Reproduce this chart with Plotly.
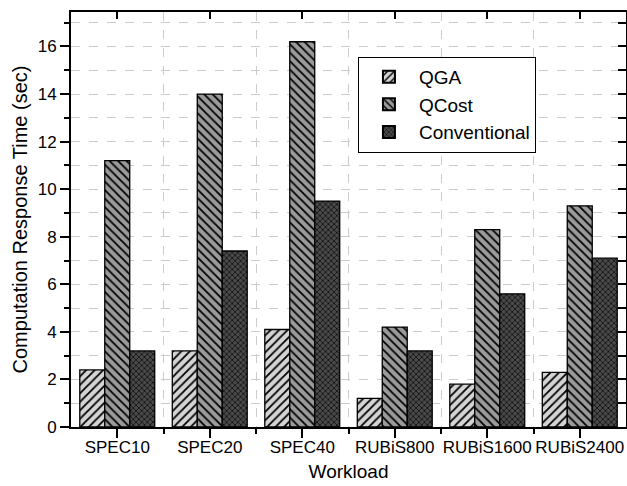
import plotly.graph_objects as go

categories = ["SPEC10", "SPEC20", "SPEC40", "RUBiS800", "RUBiS1600", "RUBiS2400"]
qga = [2.4, 3.2, 4.1, 1.2, 1.8, 2.3]
qcost = [11.2, 14.0, 16.2, 4.2, 8.3, 9.3]
conventional = [3.2, 7.4, 9.5, 3.2, 5.6, 7.1]
y_ticks = [0, 2, 4, 6, 8, 10, 12, 14, 16]

xpos = list(range(len(categories)))
font_family = "Liberation Sans, Arial, sans-serif"

series = [
    ("QGA", qga, "#d4d4d4", "/", 6),
    ("QCost", qcost, "#9a9a9a", "\\", 6),
    ("Conventional", conventional, "#4a4a4a", "x", 4),
]

fig = go.Figure()
for name, vals, bg, shape, size in series:
    fig.add_trace(go.Bar(
        name=name, x=xpos, y=vals,
        marker=dict(
            color=bg,
            line=dict(color="black", width=1.3),
            pattern=dict(shape=shape, bgcolor=bg, fgcolor="black", size=size, solidity=0.3, fillmode="replace"),
        ),
    ))

# dummy trace for mirrored axes
fig.add_trace(go.Scatter(x=[], y=[], xaxis="x2", yaxis="y2", showlegend=False, hoverinfo="skip"))

axis_font = dict(family=font_family, size=17, color="black")
fig.update_layout(
    width=627, height=486,
    paper_bgcolor="white", plot_bgcolor="white",
    margin=dict(l=71, r=1, t=12, b=59),
    barmode="group", bargap=0.19, bargroupgap=0,
    font=dict(family=font_family, color="black"),
    showlegend=True,
    legend=dict(
        x=0.517, y=0.892, xanchor="left", yanchor="top",
        bordercolor="black", borderwidth=1, bgcolor="white",
        font=dict(family=font_family, size=19, color="black"),
        tracegroupgap=0, itemsizing="constant", itemwidth=50,
    ),
    xaxis=dict(
        range=[-0.5, 5.5], tickmode="array", tickvals=xpos, ticktext=categories,
        ticks="outside", ticklen=9, tickwidth=2, tickcolor="black",
        showline=True, linecolor="black", linewidth=2, ticklabelstandoff=-5,
        showgrid=False, zeroline=False, tickfont=axis_font,
        minor=dict(tickmode="array", tickvals=[0.5, 1.5, 2.5, 3.5, 4.5], ticks="outside",
                   ticklen=5, tickwidth=2, tickcolor="black",
                   showgrid=True, gridcolor="#cccccc", griddash="dash", gridwidth=1),
        title=dict(text="Workload", font=dict(family=font_family, size=19, color="black"), standoff=8),
    ),
    yaxis=dict(
        range=[0, 17.45], tickmode="array", tickvals=y_ticks,
        ticks="outside", ticklen=9, tickwidth=2, tickcolor="black",
        showline=True, linecolor="black", linewidth=2,
        showgrid=False, zeroline=False, tickfont=axis_font,
        minor=dict(tick0=0, dtick=1, ticks="outside", ticklen=5, tickwidth=2, tickcolor="black",
                   showgrid=True, gridcolor="#cccccc", griddash="dash", gridwidth=1),
        title=dict(text="Computation Response Time (sec)", font=dict(family=font_family, size=20, color="black"), standoff=5),
    ),
    xaxis2=dict(
        overlaying="x", matches="x", side="top", range=[-0.5, 5.5],
        tickmode="array", tickvals=xpos, ticks="inside", ticklen=7, tickwidth=2, tickcolor="black",
        showticklabels=False, showline=True, linecolor="black", linewidth=2,
        showgrid=False, zeroline=False,
    ),
    yaxis2=dict(
        overlaying="y", matches="y", side="right", range=[0, 17.45],
        tickmode="linear", tick0=0, dtick=1, ticks="inside", ticklen=8, tickwidth=2, tickcolor="black",
        showticklabels=False, showline=True, linecolor="black", linewidth=2,
        showgrid=False, zeroline=False,
    ),
)

fig.write_html("out.html", config={"displayModeBar": False},
               post_script="document.body.style.margin='0';document.body.style.padding='0';")
